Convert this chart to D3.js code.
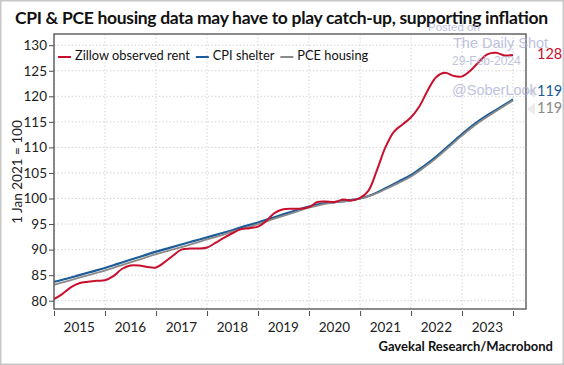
<!DOCTYPE html>
<html>
<head>
<meta charset="utf-8">
<script src="https://cdn.jsdelivr.net/npm/d3@7"></script>
<style>
  body { margin: 0; background: #fff; }
  text { font-family: Lato, "Open Sans", sans-serif; }
</style>
</head>
<body>
<div id="chart"></div>
<script>
// quarterly dates for CPI / PCE, bi-monthly for Zillow
const quarterDates = ["2015-01","2015-04","2015-07","2015-10","2016-01","2016-04","2016-07","2016-10",
  "2017-01","2017-04","2017-07","2017-10","2018-01","2018-04","2018-07","2018-10",
  "2019-01","2019-04","2019-07","2019-10","2020-01","2020-04","2020-07","2020-10",
  "2021-01","2021-04","2021-07","2021-10","2022-01","2022-04","2022-07","2022-10",
  "2023-01","2023-04","2023-07","2023-10","2024-01"];
const cpiShelter = [83.7,84.3,85.0,85.7, 86.4,87.2,88.0,88.8, 89.6,90.3,91.0,91.7, 92.4,93.1,93.8,94.6,
  95.3,96.1,96.9,97.7, 98.4,99.0,99.3,99.6, 100.0,100.8,102.0,103.3, 104.6,106.3,108.2,110.4,
  112.6,114.6,116.3,117.8, 119.4];
const pceHousing = [83.1,83.8,84.5,85.2, 85.9,86.7,87.5,88.3, 89.1,89.8,90.5,91.2, 92.0,92.7,93.5,94.2,
  95.0,95.8,96.6,97.4, 98.2,98.8,99.2,99.5, 100.0,100.7,101.8,103.0, 104.3,106.0,107.9,110.1,
  112.3,114.3,116.0,117.6, 119.2];
const zillowDates = ["2015-01","2015-03","2015-05","2015-07","2015-09","2015-11",
  "2016-01","2016-03","2016-05","2016-07","2016-09","2016-11",
  "2017-01","2017-03","2017-05","2017-07","2017-09","2017-11",
  "2018-01","2018-03","2018-05","2018-07","2018-09","2018-11",
  "2019-01","2019-03","2019-05","2019-07","2019-09","2019-11",
  "2020-01","2020-03","2020-05","2020-07","2020-09","2020-11",
  "2021-01","2021-03","2021-05","2021-07","2021-09","2021-11",
  "2022-01","2022-03","2022-05","2022-07","2022-09","2022-11",
  "2023-01","2023-03","2023-05","2023-07","2023-09","2023-11","2024-01"];
const zillowRent = [80.3,81.3,82.6,83.4,83.7,83.9, 84.0,84.8,86.2,86.9,86.9,86.6,
  86.5,87.5,88.8,90.0,90.2,90.2, 90.4,91.3,92.3,93.2,94.0,94.2,
  94.5,95.6,97.2,97.9,98.0,98.0, 98.3,99.3,99.4,99.3,99.8,99.6,
  100.1,101.5,105.5,110.0,113.1,114.5, 115.9,118.0,121.2,123.8,124.6,124.0,
  123.9,125.0,126.7,128.2,128.5,128.0,128.1];
const yearTicks = [2015,2016,2017,2018,2019,2020,2021,2022,2023,2024];
const yTicks = [80,85,90,95,100,105,110,115,120,125,130];
const legendNames = ["Zillow observed rent","CPI shelter","PCE housing"];
const endLabels = ["128","119","119"];

const colors = ["#c8102e","#1c5d99","#8a8a8a"];
const W = 564, H = 365;
const frame = {left: 54, right: 526, top: 34, bottom: 309};

const parse = d3.timeParse("%Y-%m");
const svg = d3.select("#chart").append("svg").attr("width", W).attr("height", H);

svg.append("rect").attr("x", 0.75).attr("y", 0.75).attr("width", W - 1.5).attr("height", H - 1.5)
  .attr("fill", "#fff").attr("stroke", "#c8c8c8").attr("stroke-width", 1.5);

const x = d3.scaleTime().domain([new Date(2015, 0, 1), new Date(2024, 0, 1)]).range([54, 513]);
const y = d3.scaleLinear().domain([80, 130]).range([300.7, 45.2]);

// grid
const grid = svg.append("g");
grid.selectAll("line.v").data(yearTicks).join("line")
  .attr("x1", d => x(new Date(d, 0, 1))).attr("x2", d => x(new Date(d, 0, 1)))
  .attr("y1", frame.top).attr("y2", frame.bottom)
  .attr("stroke", "#d6d6d6").attr("stroke-dasharray", "1.5,2");
grid.selectAll("line.h").data(yTicks).join("line")
  .attr("x1", frame.left).attr("x2", frame.right)
  .attr("y1", d => y(d)).attr("y2", d => y(d))
  .attr("stroke", "#d6d6d6").attr("stroke-dasharray", "1.5,2");

// lines
const line = d3.line().x(d => x(d[0])).y(d => y(d[1])).curve(d3.curveCatmullRom.alpha(0.5));
const series = [
  {vals: d3.zip(zillowDates.map(parse), zillowRent), c: colors[0], w: 2},
  {vals: d3.zip(quarterDates.map(parse), cpiShelter), c: colors[1], w: 2.2},
  {vals: d3.zip(quarterDates.map(parse), pceHousing), c: colors[2], w: 1.8}
];
[1, 2, 0].forEach(i => {
  svg.append("path").attr("d", line(series[i].vals)).attr("fill", "none")
    .attr("stroke", series[i].c).attr("stroke-width", series[i].w).attr("stroke-linejoin", "round");
});

// frame
svg.append("rect").attr("x", frame.left).attr("y", frame.top)
  .attr("width", frame.right - frame.left).attr("height", frame.bottom - frame.top)
  .attr("fill", "none").attr("stroke", "#4d4d4d").attr("stroke-width", 1.3);

// y axis
const yAxis = svg.append("g").attr("transform", "translate(" + frame.left + ",0)")
  .call(d3.axisLeft(y).tickValues(yTicks).tickSize(5).tickPadding(2));
yAxis.select(".domain").remove();
yAxis.selectAll("line").attr("stroke", "#4d4d4d");
yAxis.selectAll("text").style("font-size", "13.5px").attr("fill", "#222");

svg.append("text").attr("transform", "translate(19,172) rotate(-90)")
  .attr("text-anchor", "middle").attr("dominant-baseline", "middle")
  .style("font-size", "13.5px").attr("fill", "#222").text("1 Jan 2021 = 100");

// x axis (ticks below frame, labels mid-year)
const xAxis = svg.append("g").attr("transform", "translate(0,311)")
  .call(d3.axisBottom(x).tickValues(yearTicks.map(d => new Date(d, 0, 1))).tickSize(5).tickFormat(""));
xAxis.select(".domain").remove();
xAxis.selectAll("line").attr("stroke", "#4d4d4d");
svg.selectAll("text.xl").data(yearTicks.slice(0, -1)).join("text").attr("class", "xl")
  .attr("x", d => x(new Date(d, 6, 1))).attr("y", 329)
  .attr("text-anchor", "middle").attr("dominant-baseline", "middle")
  .style("font-size", "13.5px").attr("fill", "#222").text(d => d);

// legend
let lx = 58;
legendNames.forEach((n, i) => {
  svg.append("line").attr("x1", lx).attr("x2", lx + 13).attr("y1", 57).attr("y2", 57)
    .attr("stroke", colors[i]).attr("stroke-width", 2);
  const t = svg.append("text").attr("x", lx + 17).attr("y", 57).attr("dominant-baseline", "middle")
    .style("font-size", "12.8px").attr("fill", "#111").text(n);
  lx += 17 + t.node().getComputedTextLength() + 6;
});

// end labels with tags
const labelY = [55, 92, 109];
[1, 2].forEach(i => {
  svg.append("path").attr("d", "M527," + labelY[i] + "l8,-6v12z").attr("fill", "#ececec");
});
endLabels.forEach((t, i) => {
  svg.append("text").attr("x", 537).attr("y", labelY[i])
    .attr("dominant-baseline", "middle").style("font-size", "14.5px")
    .attr("fill", colors[i]).text(t);
});

// title & source
svg.append("text").attr("x", 15).attr("y", 24).attr("textLength", 533)
  .style("font-size", "17.5px").style("font-weight", "bold").attr("fill", "#111")
  .text("CPI & PCE housing data may have to play catch-up, supporting inflation");
svg.append("text").attr("x", 553).attr("y", 351).attr("text-anchor", "end")
  .style("font-size", "13px").style("font-weight", "bold").attr("fill", "#111")
  .text("Gavekal Research/Macrobond");

// watermark
const wm = svg.append("g").attr("fill", "#a9aed4").attr("opacity", 0.75);
wm.append("text").attr("x", 428).attr("y", 31).style("font-size", "11.5px").style("font-family", "'Liberation Sans', Arial").text("Posted on");
wm.append("text").attr("x", 453).attr("y", 48).style("font-size", "14.5px").style("font-family", "'Liberation Sans', Arial").text("The Daily Shot");
wm.append("text").attr("x", 452).attr("y", 64.5).style("font-size", "12px").style("font-family", "'Liberation Sans', Arial").text("29-Feb-2024");
wm.append("text").attr("x", 452).attr("y", 94.5).style("font-size", "14.5px").style("font-family", "'Liberation Sans', Arial").text("@SoberLook");
</script>
</body>
</html>
